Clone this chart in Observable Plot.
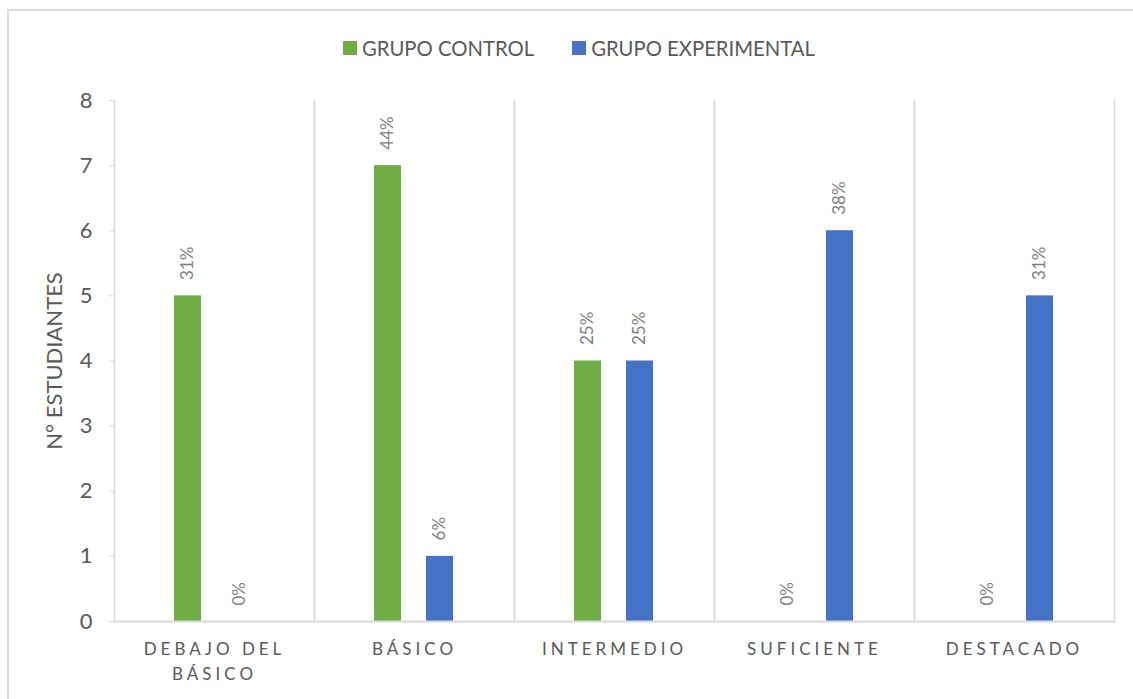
<!DOCTYPE html>
<html>
<head>
<meta charset="utf-8">
<script src="https://cdn.jsdelivr.net/npm/d3@7"></script>
<script src="https://cdn.jsdelivr.net/npm/@observablehq/plot@0.6"></script>
<style>
  body { margin: 0; background: #fff; font-family: Lato, "Open Sans", sans-serif; }
  #wrap { position: relative; width: 1133px; height: 699px; overflow: hidden; background: #fff; }
  #border { position: absolute; left: 7px; top: 9px; width: 1300px; height: 900px;
            border-left: 2px solid #d9d9d9; border-top: 2px solid #d9d9d9; box-sizing: border-box; }
  #legend { position: absolute; top: 35px; left: 343px; height: 26px; display: flex; align-items: center;
            font-size: 20.3px; color: #595959; white-space: nowrap; }
  #legend .item { display: flex; align-items: center; }
  #legend .sw { width: 14px; height: 14px; margin-right: 5px; }
  #legend .item + .item { margin-left: 38px; }
  #chart { position: absolute; left: 0; top: 0; }
  #chart svg { font-family: Lato, "Open Sans", sans-serif; }
  #chart g[aria-label="fx-axis tick label"] text { letter-spacing: 4px; }
</style>
</head>
<body>
<div id="wrap">
  <div id="border"></div>
  <div id="legend"></div>
  <div id="chart"></div>
</div>
<script>
// Achievement levels (x categories) and the two groups
const categories = ["DEBAJO DEL BÁSICO", "BÁSICO", "INTERMEDIO", "SUFICIENTE", "DESTACADO"];
const groups = ["GRUPO CONTROL", "GRUPO EXPERIMENTAL"];
const colors = ["#70AD47", "#4472C4"];

// Number of students per level
const controlCounts = [5, 7, 4, 0, 0];
const experimentalCounts = [0, 1, 4, 6, 5];

// Percentage labels shown above each bar
const controlPct = ["31%", "44%", "25%", "0%", "0%"];
const experimentalPct = ["0%", "6%", "25%", "38%", "31%"];

// Y-axis ticks
const yTicks = [0, 1, 2, 3, 4, 5, 6, 7, 8];

// Category tick labels (line break for the long one)
const categoryLabels = ["DEBAJO DEL\nBÁSICO", "BÁSICO", "INTERMEDIO", "SUFICIENTE", "DESTACADO"];

const rows = [];
categories.forEach((c, i) => {
  rows.push({cat: c, group: groups[0], value: controlCounts[i], pct: controlPct[i]});
  rows.push({cat: c, group: groups[1], value: experimentalCounts[i], pct: experimentalPct[i]});
});

// Legend
const legend = document.getElementById("legend");
groups.forEach((g, i) => {
  const item = document.createElement("div");
  item.className = "item";
  item.innerHTML = `<span class="sw" style="background:${colors[i]}"></span><span>${g}</span>`;
  legend.appendChild(item);
});

const grid = "#d9d9d9";
const textColor = "#595959";

const chart = Plot.plot({
  width: 1133,
  height: 699,
  marginTop: 100,
  marginBottom: 78,
  marginLeft: 113,
  marginRight: 19,
  style: {background: "transparent", color: textColor},
  fx: {domain: categories, padding: 0},
  x: {domain: groups, paddingInner: 0.472, paddingOuter: 1.123},
  y: {domain: [0, 8]},
  color: {domain: groups, range: colors},
  marks: [
    Plot.frame({anchor: "left", stroke: grid, strokeWidth: 1.5}),
    Plot.frame({anchor: "right", stroke: grid, strokeWidth: 1.5}),
    Plot.barY(rows, {fx: "cat", x: "group", y: "value", fill: "group"}),
    Plot.frame({anchor: "bottom", stroke: grid, strokeWidth: 2}),
    Plot.text(rows, {
      fx: "cat", x: "group", y: "value", text: "pct",
      rotate: -90, textAnchor: "start", dy: -16,
      fill: "#7f7f7f", fontSize: 17
    }),
    Plot.axisY({
      ticks: yTicks, tickFormat: d => String(d),
      tickSize: 5, tickPadding: 17, stroke: grid,
      fontSize: 22, fill: textColor,
      label: "N° ESTUDIANTES", labelAnchor: "center", labelArrow: "none", labelOffset: 68
    }),
    Plot.axisFx({
      anchor: "bottom",
      tickSize: 0, tickPadding: 16, fontSize: 17, fill: textColor, lineHeight: 1.45,
      tickFormat: d => categoryLabels[categories.indexOf(d)], label: null
    }),
    Plot.axisX({ticks: [], label: null, tickSize: 0})
  ]
});
document.getElementById("chart").appendChild(chart);
</script>
</body>
</html>
